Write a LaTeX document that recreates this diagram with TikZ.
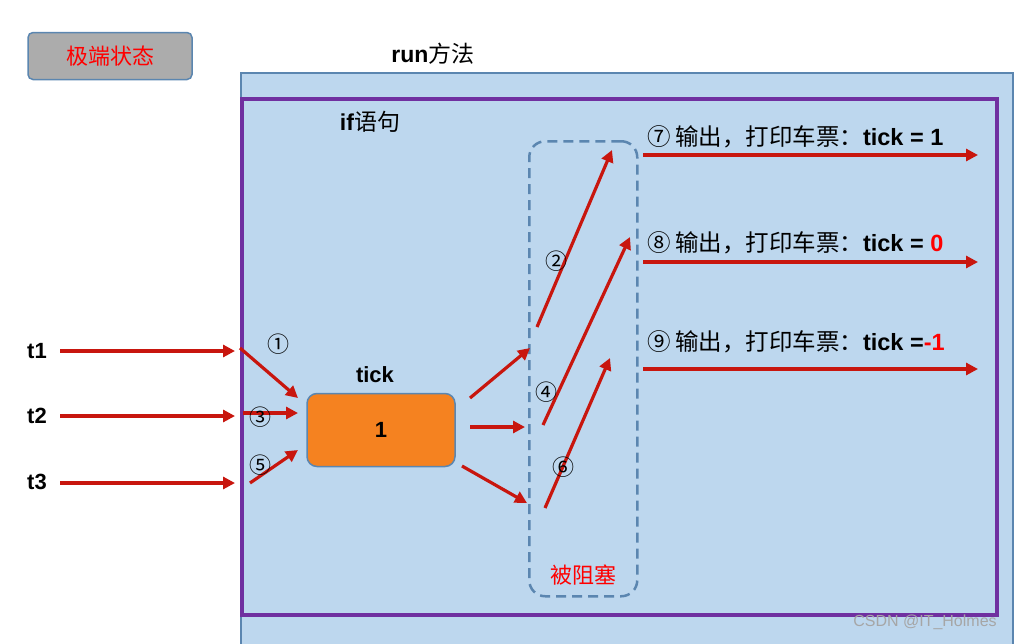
\documentclass[tikz,border=0pt]{standalone}
\usepackage{fontspec}
\setmainfont{Liberation Sans}
\newfontfamily\cjk{Noto Sans CJK SC}
\usetikzlibrary{arrows.meta}
\definecolor{arr}{HTML}{C8160E}
\definecolor{bg}{HTML}{BDD7EE}
\definecolor{bd}{HTML}{5B86B0}
\definecolor{pur}{HTML}{7030A0}
\definecolor{org}{HTML}{F58220}
\begin{document}
\begin{tikzpicture}[x=1pt,y=-1pt,
  a/.style={draw=arr,line width=3.2pt,-{Triangle[length=12pt,width=12pt]}},
  lbl/.style={font=\bfseries\fontsize{22}{22}\selectfont},
  cn/.style={font=\cjk\fontsize{22}{22}\selectfont},
  tx/.style={font=\fontsize{23.5}{23.5}\selectfont,anchor=west}]
\useasboundingbox (0,0) rectangle (1028,643);
\fill[white] (0,0) rectangle (1028,643);
\node[draw=bd,fill=gray!65,rounded corners=5pt,line width=1.5pt,minimum width=164pt,minimum height=47pt,text=red,font=\cjk\fontsize{22}{22}\selectfont] (state) at (110,56) {极端状态};
\node[font=\fontsize{23}{23}\selectfont] (run) at (433,54) {\textbf{run}{\cjk 方法}};
\node[draw=bd,fill=bg,line width=1.5pt,anchor=north west,minimum width=772pt,minimum height=580pt,inner sep=0pt] (outer) at (240,72) {};
\node[draw=pur,line width=3.5pt,anchor=north west,minimum width=755pt,minimum height=516pt,inner sep=0pt] (ifbox) at (240,97) {};
\node[font=\fontsize{23}{23}\selectfont] (ifl) at (370,122) {\textbf{if}{\cjk 语句}};
\node[draw=bd,dashed,dash pattern=on 10pt off 6pt,line width=2.5pt,rounded corners=16pt,anchor=north west,minimum width=108pt,minimum height=455pt,inner sep=0pt] (blk) at (528,140) {};
\node[text=red,font=\cjk\fontsize{22}{22}\selectfont] (blkl) at (583,575) {被阻塞};
\node[draw=bd,fill=org,rounded corners=10pt,line width=1.5pt,minimum width=148pt,minimum height=73pt,lbl] (tick) at (381,430) {1};
\node[lbl] (tickl) at (375,375) {tick};
\node[lbl] (t1) at (37,351) {t1};
\node[lbl] (t2) at (37,416) {t2};
\node[lbl] (t3) at (37,482) {t3};
\foreach \n/\x/\y in {a1/60/351,a2/235/351,b1/60/416,b2/235/416,c1/60/483,c2/235/483,
 d1/240/348,d2/298/398,e1/243/413,e2/298/413,f1/250/483,f2/298/450,
 g1/470/398,g2/530/348,h1/470/427,h2/525/427,i1/462/466,i2/527/503,
 j1/537/327,j2/612/150,k1/543/425,k2/630/237,l1/545/508,l2/610/358,
 m1/643/155,m2/978/155,n1/643/262,n2/978/262,o1/643/369,o2/978/369}
  \coordinate (\n) at (\x,\y);
\foreach \p/\q in {a1/a2,b1/b2,c1/c2,d1/d2,e1/e2,f1/f2,g1/g2,h1/h2,i1/i2,j1/j2,k1/k2,l1/l2,m1/m2,n1/n2,o1/o2}
  \draw[a] (\p) -- (\q);
\node[cn] (c1n) at (278,344) {①};
\node[cn] (c3n) at (260,417) {③};
\node[cn] (c5n) at (260,465) {⑤};
\node[cn] (c2n) at (556,261) {②};
\node[cn] (c4n) at (546,392) {④};
\node[cn] (c6n) at (563,467) {⑥};
\node[tx] (l7) at (644,137) {{\cjk ⑦\hspace{4pt}输出，打印车票：}\textbf{tick = 1}};
\node[tx] (l8) at (644,243) {{\cjk ⑧\hspace{4pt}输出，打印车票：}\textbf{tick = \textcolor{red}{0}}};
\node[tx] (l9) at (644,342) {{\cjk ⑨\hspace{4pt}输出，打印车票：}\textbf{tick =\textcolor{red}{-1}}};
\node[text=gray!70,font=\fontsize{16}{16}\selectfont] (wm) at (925,622) {CSDN @IT\_Holmes};
\end{tikzpicture}
\end{document}
